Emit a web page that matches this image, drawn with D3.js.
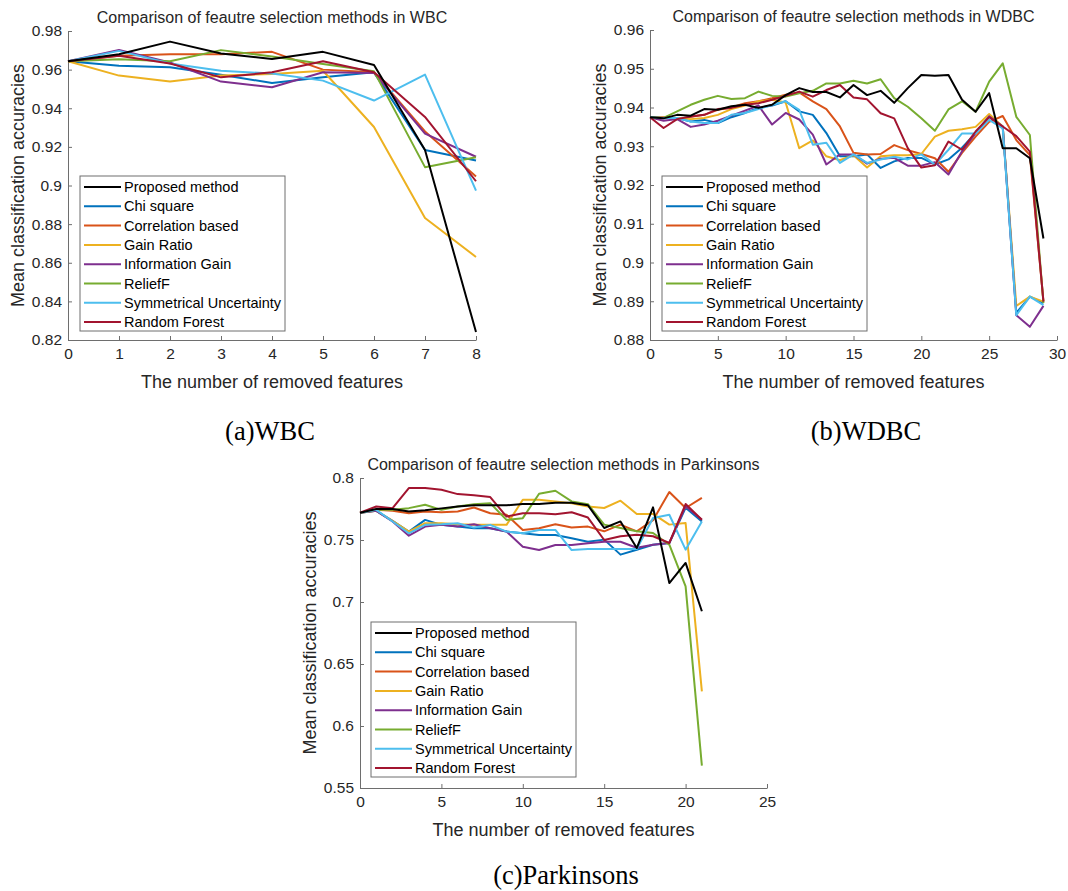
<!DOCTYPE html>
<html>
<head>
<meta charset="utf-8">
<script src="https://cdn.jsdelivr.net/npm/d3@7"></script>
<style>
  body { margin: 0; background: #fff; }
  svg { display: block; font-family: "Liberation Sans", Arial, sans-serif; }
</style>
</head>
<body>
<svg id="chart"></svg>
<script>
// legend order (MATLAB default colour order after black)
const methods = ["Proposed method", "Chi square", "Correlation based", "Gain Ratio",
    "Information Gain", "ReliefF", "Symmetrical Uncertainty", "Random Forest"];

// (a) WBC, removed features 0..8
const wbcX = d3.range(0, 9);
const wbcProposed = [.9643, .968, .9745, .9684, .9655, .9692, .9624, .9184, .8241];
const wbcChi      = [.9643, .962, .9612, .9573, .9531, .956, .9586, .9184, .9129];
const wbcCorr     = [.9643, .9672, .968, .968, .9692, .960, .9586, .928, .9047];
const wbcGain     = [.9643, .9569, .9538, .9569, .9577, .9594, .9303, .8832, .863];
const wbcIG       = [.9643, .9702, .9637, .9538, .9509, .9586, .9583, .9269, .9149];
const wbcRelief   = [.9643, .9654, .9643, .9701, .9668, .9629, .9591, .9095, .9146];
const wbcSU       = [.9643, .9697, .9632, .9594, .958, .9543, .944, .9574, .8973];
const wbcRF       = [.9643, .9672, .9632, .956, .9586, .9643, .9586, .9355, .9022];
const wbcYTicks = [0.82, 0.84, 0.86, 0.88, 0.9, 0.92, 0.94, 0.96, 0.98];
const wbcXTicks = [0, 1, 2, 3, 4, 5, 6, 7, 8];

// (b) WDBC, removed features 0..29
const wdbcX = d3.range(0, 30);
const wdbcProposed = [.9375, .9372, .9381, .9379, .9396, .9394, .9403, .9407, .9399, .9407, .9432, .945, .944, .944, .9426,
    .9458, .9432, .9443, .9412, .945, .9484, .9482, .9484, .942, .9389, .9437, .9295, .9295, .9269, .9062];
const wdbcChi = [.9375, .9372, .9373, .9364, .9368, .936, .9375, .9386, .9399, .9405, .9416, .939, .9381, .9334, .9274,
    .9274, .9279, .9244, .9261, .927, .927, .9253, .9266, .9296, .9334, .9377, .9351, .887, .8912, .8895];
const wdbcCorr = [.9375, .9375, .937, .9376, .9381, .9394, .94, .9411, .9416, .9424, .9433, .9439, .9416, .9396, .9351,
    .9283, .9279, .928, .9303, .929, .928, .9269, .9234, .9283, .9325, .9363, .9378, .9316, .9277, .890];
const wdbcGain = [.9375, .9373, .9373, .937, .9373, .9381, .9396, .9405, .9416, .942, .9413, .9295, .9315, .9274, .9264,
    .9277, .9245, .9274, .9277, .9277, .928, .9325, .934, .9344, .935, .9383, .9351, .8888, .8912, .8899];
const wdbcIG = [.9375, .9366, .937, .935, .9356, .9366, .9379, .9392, .9405, .9356, .9386, .9369, .933, .9253, .9279,
    .9279, .9255, .9268, .927, .925, .925, .9259, .9227, .9287, .9334, .9377, .9351, .8864, .8834, .8888];
const wdbcRelief = [.9375, .9373, .939, .9407, .942, .943, .9422, .9424, .9441, .943, .9428, .9437, .9443, .9462, .9462,
    .9469, .9462, .9473, .9424, .9402, .9372, .934, .9395, .9416, .9389, .9467, .9514, .9376, .9329, .8895];
const wdbcSU = [.9375, .9373, .9373, .9364, .936, .936, .9381, .9386, .9396, .9407, .9416, .9394, .9304, .9309, .9257,
    .9279, .9257, .9266, .9273, .9266, .9279, .9253, .9291, .9333, .9333, .9368, .9346, .8864, .8912, .889];
const wdbcRF = [.9375, .9347, .937, .9377, .9381, .9396, .9399, .9407, .9411, .942, .943, .9441, .9428, .9445, .9458,
    .9426, .9421, .9385, .9372, .9295, .9245, .9251, .9312, .9291, .9338, .9375, .9351, .9326, .9286, .8899];
const wdbcYTicks = [0.88, 0.89, 0.9, 0.91, 0.92, 0.93, 0.94, 0.95, 0.96];
const wdbcXTicks = [0, 5, 10, 15, 20, 25, 30];

// (c) Parkinsons, removed features 0..21
const parkX = d3.range(0, 22);
const parkProposed = [.772, .775, .775, .773, .774, .7755, .777, .778, .778, .778, .779, .779, .780, .780, .778,
    .7597, .765, .7435, .7763, .7153, .7315, .6925];
const parkChi = [.772, .7735, .7654, .7568, .7662, .7622, .7608, .7595, .7595, .7568, .7554, .7541, .7541, .7514, .7486,
    .7503, .7382, .7422, .7462, .7476, .776, .765];
const parkCorr = [.772, .7743, .7735, .7716, .773, .7724, .773, .7762, .7716, .7703, .7581, .7595, .7627, .76, .7608,
    .757, .7624, .757, .766, .7887, .7758, .7839];
const parkGain = [.772, .7735, .7654, .7568, .7635, .7635, .7627, .7622, .7622, .7622, .7824, .7824, .7811, .7797, .7771,
    .7758, .7817, .771, .771, .7624, .7637, .628];
const parkIG = [.772, .7735, .7649, .7535, .7608, .7622, .7608, .7627, .7595, .7568, .7446, .7419, .746, .746, .7473,
    .7486, .7486, .7438, .7462, .7476, .7772, .7664];
const parkRelief = [.772, .7743, .7743, .7757, .7784, .7743, .777, .7789, .7797, .7662, .7676, .7873, .7897, .7811, .7789,
    .7624, .7597, .757, .7556, .7462, .7126, .568];
const parkSU = [.772, .7743, .7649, .7554, .7622, .7627, .7635, .76, .7622, .7568, .7554, .7581, .7581, .7419, .7427,
    .7427, .7427, .7427, .7677, .7704, .7422, .765];
const parkRF = [.772, .777, .7757, .7919, .7919, .7905, .787, .786, .7846, .7689, .7716, .7716, .7708, .7724, .7681,
    .750, .753, .7543, .753, .7476, .779, .7664];
const parkYTicks = [0.55, 0.6, 0.65, 0.7, 0.75, 0.8];
const parkXTicks = [0, 5, 10, 15, 20, 25];

const colors = ["#000000", "#0072BD", "#D95319", "#EDB120", "#7E2F8E", "#77AC30", "#4DBEEE", "#A2142F"];

const svg = d3.select("#chart").attr("width", 1068).attr("height", 891);

function drawPanel(p) {
    const x = d3.scaleLinear().domain(p.xDomain).range([p.left, p.right]);
    const y = d3.scaleLinear().domain(p.yDomain).range([p.bottom, p.top]);
    const g = svg.append("g");
    const fmt = d => String(+d.toFixed(2));

    const ya = g.append("g")
        .attr("transform", `translate(${p.left},0)`)
        .call(d3.axisLeft(y).tickValues(p.yTicks).tickFormat(fmt)
            .tickSizeInner(-4).tickSizeOuter(0).tickPadding(6));
    const xa = g.append("g")
        .attr("transform", `translate(0,${p.bottom})`)
        .call(d3.axisBottom(x).tickValues(p.xTicks).tickFormat(fmt)
            .tickSizeInner(-4).tickSizeOuter(0).tickPadding(8));
    [ya, xa].forEach(a => {
        a.select(".domain").attr("stroke", "#6e6e6e");
        a.selectAll(".tick line").attr("stroke", "#6e6e6e");
        a.selectAll("text").attr("fill", "#262626")
            .style("font-size", "15.5px").style("font-family", "Liberation Sans, Arial, sans-serif");
    });

    const line = d3.line().x((d, i) => x(p.xs[i])).y(d => y(d));
    // black (proposed) drawn last so it sits on top
    const order = [1, 2, 3, 4, 5, 6, 7, 0];
    order.forEach(k => {
        g.append("path")
            .datum(p.series[k])
            .attr("d", line)
            .attr("fill", "none")
            .attr("stroke", colors[k])
            .attr("stroke-width", 2)
            .attr("stroke-linejoin", "round");
    });

    const cx = (p.left + p.right) / 2;
    g.append("text")
        .attr("x", cx).attr("y", p.top - 8)
        .attr("text-anchor", "middle")
        .attr("fill", "#262626")
        .style("font-size", "16px")
        .text(p.title);
    g.append("text")
        .attr("x", cx).attr("y", p.bottom + 48)
        .attr("text-anchor", "middle")
        .attr("fill", "#262626")
        .style("font-size", "18px")
        .text("The number of removed features");
    g.append("text")
        .attr("transform", `translate(${p.left - 44},${(p.top + p.bottom) / 2}) rotate(-90)`)
        .attr("text-anchor", "middle")
        .attr("fill", "#262626")
        .style("font-size", "18px")
        .text("Mean classification accuracies");

    // legend
    const lg = g.append("g");
    lg.append("rect")
        .attr("x", p.legX).attr("y", p.legY)
        .attr("width", 205).attr("height", 155)
        .attr("fill", "#fff").attr("stroke", "#6e6e6e").attr("stroke-width", 1);
    methods.forEach((m, k) => {
        const yy = p.legY + 11 + k * 19.3;
        lg.append("line")
            .attr("x1", p.legX + 4).attr("x2", p.legX + 41)
            .attr("y1", yy).attr("y2", yy)
            .attr("stroke", colors[k]).attr("stroke-width", 2);
        lg.append("text")
            .attr("x", p.legX + 44).attr("y", yy)
            .attr("dy", "0.35em")
            .attr("fill", "#000")
            .style("font-size", "14.5px")
            .text(m);
    });

    svg.append("text")
        .attr("x", p.capX).attr("y", p.capY)
        .attr("text-anchor", "middle")
        .style("font-family", "Liberation Serif, Times New Roman, serif")
        .style("font-size", "26.5px")
        .attr("fill", "#000")
        .text(p.caption);
}

drawPanel({
    left: 68, right: 476, top: 31, bottom: 340,
    xDomain: [0, 8], yDomain: [0.82, 0.98], xs: wbcX,
    xTicks: wbcXTicks, yTicks: wbcYTicks,
    series: [wbcProposed, wbcChi, wbcCorr, wbcGain, wbcIG, wbcRelief, wbcSU, wbcRF],
    title: "Comparison of feautre selection methods in WBC",
    legX: 80, legY: 176, caption: "(a)WBC", capX: 270, capY: 440
});
drawPanel({
    left: 650, right: 1057, top: 30, bottom: 340,
    xDomain: [0, 30], yDomain: [0.88, 0.96], xs: wdbcX,
    xTicks: wdbcXTicks, yTicks: wdbcYTicks,
    series: [wdbcProposed, wdbcChi, wdbcCorr, wdbcGain, wdbcIG, wdbcRelief, wdbcSU, wdbcRF],
    title: "Comparison of feautre selection methods in WDBC",
    legX: 662, legY: 176, caption: "(b)WDBC", capX: 866, capY: 440
});
drawPanel({
    left: 360, right: 767, top: 478, bottom: 788,
    xDomain: [0, 25], yDomain: [0.55, 0.8], xs: parkX,
    xTicks: parkXTicks, yTicks: parkYTicks,
    series: [parkProposed, parkChi, parkCorr, parkGain, parkIG, parkRelief, parkSU, parkRF],
    title: "Comparison of feautre selection methods in Parkinsons",
    legX: 371, legY: 622, caption: "(c)Parkinsons", capX: 566, capY: 884
});
</script>
</body>
</html>
